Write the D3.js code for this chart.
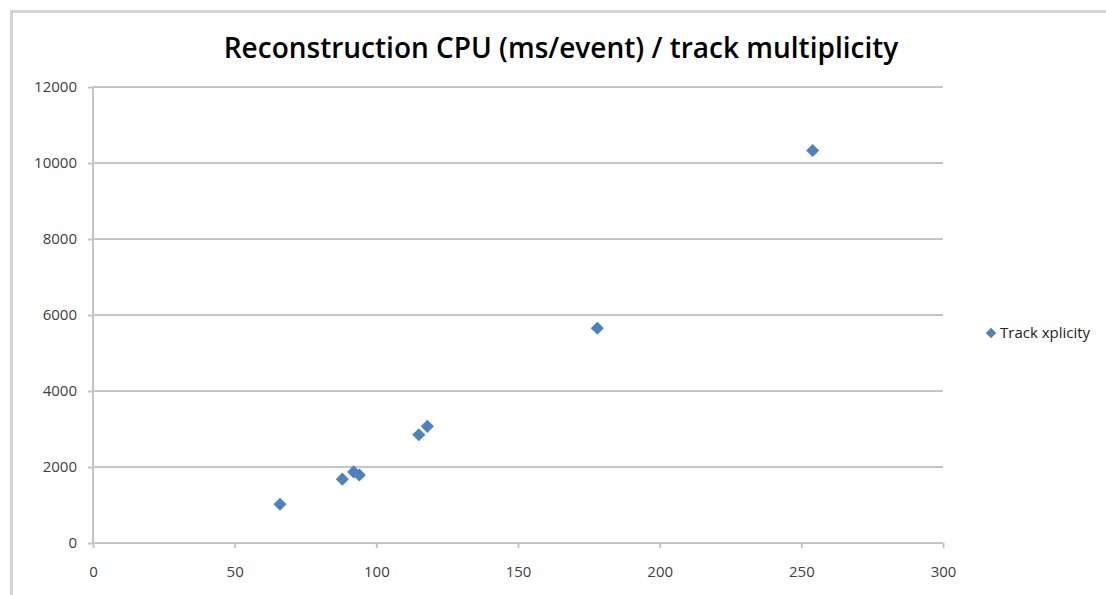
<!DOCTYPE html>
<html>
<head>
<meta charset="utf-8">
<script src="https://cdn.jsdelivr.net/npm/d3@7"></script>
<style>
  body { margin: 0; background: #fff; }
  svg text { font-family: "Open Sans", "DejaVu Sans", sans-serif; }
</style>
</head>
<body>
<svg id="chart" width="1106" height="595"></svg>
<script>
// data
const multiplicity = [66, 88, 92, 94, 115, 118, 178, 254];
const cpuTime = [1020, 1680, 1870, 1790, 2850, 3070, 5650, 10330];
const xTicks = [0, 50, 100, 150, 200, 250, 300];
const yTicks = [0, 2000, 4000, 6000, 8000, 10000, 12000];
const seriesName = "Track xplicity";
const title = "Reconstruction CPU (ms/event) / track multiplicity";

const svg = d3.select('#chart');
const gridColor = '#c4c4c4';
const markColor = '#4f81bd';

// chart frame (top and left edges visible)
svg.append('path')
  .attr('d', 'M11.5,1106 L11.5,11.5 L1106,11.5')
  .attr('fill', 'none')
  .attr('stroke', '#d4d4d4')
  .attr('stroke-width', 3);

const x = d3.scaleLinear().domain([0, 300]).range([93, 943]);
const y = d3.scaleLinear().domain([0, 12000]).range([543, 87]);

// horizontal gridlines
svg.append('g')
  .selectAll('line')
  .data(yTicks.filter(d => d > 0))
  .enter().append('line')
  .attr('x1', x(0)).attr('x2', x(300))
  .attr('y1', d => y(d)).attr('y2', d => y(d))
  .attr('stroke', gridColor)
  .attr('stroke-width', 2);

// y axis
const yAxis = svg.append('g')
  .attr('transform', `translate(${x(0)},0)`)
  .call(d3.axisLeft(y).tickValues(yTicks).tickSize(5).tickPadding(11).tickFormat(d3.format('d')));
yAxis.select('.domain').attr('stroke', gridColor).attr('stroke-width', 2).attr('d', `M0,${y(0)}V${y(12000)}`);
yAxis.selectAll('.tick line').attr('stroke', gridColor).attr('stroke-width', 2);
yAxis.selectAll('text').attr('font-size', 15).attr('fill', '#404040');

// x axis
const xAxis = svg.append('g')
  .attr('transform', `translate(0,${y(0)})`)
  .call(d3.axisBottom(x).tickValues(xTicks).tickSize(5).tickPadding(18));
xAxis.select('.domain').attr('stroke', gridColor).attr('stroke-width', 2).attr('d', `M${x(0)},0H${x(300)}`);
xAxis.selectAll('.tick line').attr('stroke', gridColor).attr('stroke-width', 2);
xAxis.selectAll('text').attr('font-size', 15).attr('fill', '#404040');

// points as diamonds
const diamond = d3.symbol().type(d3.symbolDiamond2).size(110);
svg.append('g')
  .selectAll('path')
  .data(multiplicity)
  .enter().append('path')
  .attr('d', diamond)
  .attr('transform', (d, i) => `translate(${x(d)},${y(cpuTime[i])})`)
  .attr('fill', markColor);

// title
svg.append('text')
  .attr('x', 561).attr('y', 58)
  .attr('text-anchor', 'middle')
  .attr('font-size', 28)
  .attr('font-weight', 600)
  .attr('fill', '#000')
  .text(title);

// legend
const legend = svg.append('g').attr('transform', 'translate(991,333)');
legend.append('path')
  .attr('d', d3.symbol().type(d3.symbolDiamond2).size(70))
  .attr('fill', markColor);
legend.append('text')
  .attr('x', 9).attr('y', 5)
  .attr('font-size', 15)
  .attr('fill', '#222')
  .text(seriesName);
</script>
</body>
</html>
